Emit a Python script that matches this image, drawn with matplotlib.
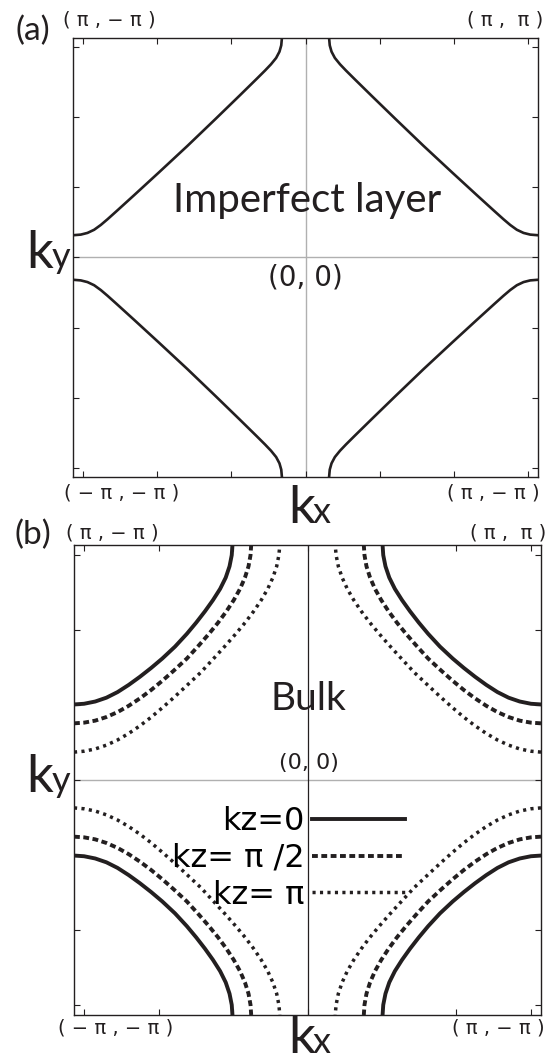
import matplotlib
matplotlib.use("Agg")
import matplotlib.pyplot as plt
from matplotlib.lines import Line2D

W, H = 554, 1053

# ---- data (momentum in units of pi); upper-left branch of each Fermi contour ----
# panel (a): imperfect layer
a_kx = [-1.045, -1.01, -0.98, -0.95, -0.92, -0.89, -0.85, -0.77, -0.66, -0.531,
        -0.404, -0.297, -0.22, -0.182, -0.155, -0.132, -0.117, -0.109, -0.106]
a_ky = [0.106, 0.109, 0.117, 0.132, 0.155, 0.182, 0.22, 0.297, 0.404, 0.531,
        0.66, 0.77, 0.85, 0.89, 0.92, 0.95, 0.98, 1.01, 1.045]
# panel (b): bulk, kz = 0
b0_kx = [-1.045, -1.0, -0.95, -0.90, -0.85, -0.80, -0.75, -0.70, -0.65, -0.593,
         -0.54, -0.498, -0.459, -0.423, -0.391, -0.366, -0.349, -0.339, -0.336]
b0_ky = [0.336, 0.339, 0.349, 0.366, 0.391, 0.423, 0.459, 0.498, 0.54, 0.593,
         0.65, 0.70, 0.75, 0.80, 0.85, 0.90, 0.95, 1.0, 1.045]
# kz = pi/2
b1_kx = [-1.045, -1.0, -0.95, -0.90, -0.85, -0.80, -0.75, -0.70, -0.65, -0.60, -0.54,
         -0.485, -0.441, -0.40, -0.363, -0.33, -0.302, -0.28, -0.264, -0.255, -0.252]
b1_ky = [0.252, 0.255, 0.264, 0.28, 0.302, 0.33, 0.363, 0.40, 0.441, 0.485, 0.54,
         0.60, 0.65, 0.70, 0.75, 0.80, 0.85, 0.90, 0.95, 1.0, 1.045]
# kz = pi
b2_kx = [-1.045, -1.0, -0.95, -0.90, -0.85, -0.80, -0.75, -0.70, -0.65, -0.60, -0.55, -0.478,
         -0.411, -0.365, -0.321, -0.279, -0.241, -0.207, -0.178, -0.155, -0.138, -0.128, -0.124]
b2_ky = [0.124, 0.128, 0.138, 0.155, 0.178, 0.207, 0.241, 0.279, 0.321, 0.365, 0.411, 0.478,
         0.55, 0.60, 0.65, 0.70, 0.75, 0.80, 0.85, 0.90, 0.95, 1.0, 1.045]

kz_labels = ["kz=0", "kz= π /2", "kz= π"]
tick_vals = [-1, -2/3, -1/3, 0, 1/3, 2/3, 1]
lim = 1.045

INK = "#231f20"
LAT = ["Lato", "DejaVu Sans"]
NAR = ["Liberation Sans Narrow", "DejaVu Sans"]
PIF = ["DejaVu Sans"]

fig = plt.figure(figsize=(W / 100, H / 100), dpi=100)


def ft(x, y, s, **kw):
    fig.text(x / W, 1 - y / H, s, **kw)


def setup(ax, vcolor, vlw):
    ax.set_xlim(-lim, lim)
    ax.set_ylim(-lim, lim)
    ax.set_xticks(tick_vals)
    ax.set_yticks(tick_vals)
    ax.tick_params(direction="in", length=4, width=0.8, top=True, right=True,
                   labelbottom=False, labelleft=False, color=INK)
    for sp in ax.spines.values():
        sp.set_linewidth(1.0)
        sp.set_color(INK)
    ax.axhline(0, color="#b0b0b0", lw=1.0, zorder=1)
    ax.axvline(0, color=vcolor, lw=vlw, zorder=1)


def four(ax, kx, ky, **kw):
    for sx in (1, -1):
        for sy in (1, -1):
            ax.plot([sx * v for v in kx], [sy * v for v in ky], color=INK,
                    solid_joinstyle="round", **kw)


DASH = (1.5, 0.9)
DOT = (0.9, 1.25)

# ---- panel (a) ----
axA = fig.add_axes([73 / W, 1 - 477 / H, 465 / W, 439 / H])
setup(axA, "#b0b0b0", 1.0)
four(axA, a_kx, a_ky, lw=1.9)

# ---- panel (b) ----
axB = fig.add_axes([74 / W, 1 - 1015 / H, 467 / W, 470 / H])
setup(axB, INK, 0.9)
four(axB, b0_kx, b0_ky, lw=2.8)
four(axB, b1_kx, b1_ky, lw=2.8, dashes=DASH)
four(axB, b2_kx, b2_ky, lw=2.5, dashes=DOT)

handles = [Line2D([], [], color=INK, lw=2.8),
           Line2D([], [], color=INK, lw=2.8, dashes=DASH),
           Line2D([], [], color=INK, lw=2.5, dashes=DOT)]
axB.legend(handles, kz_labels, loc="upper right", bbox_to_anchor=(405 / W, 1 - 806 / H),
           bbox_transform=fig.transFigure, frameon=False, markerfirst=False,
           handlelength=2.9, handletextpad=0.25, labelspacing=0.18, borderpad=0,
           borderaxespad=0, prop={"family": NAR, "size": 23})

# ---- texts ----
ft(33, 31, "(a)", family=LAT, size=24, ha="center", va="center", color=INK)
ft(33, 535, "(b)", family=LAT, size=24, ha="center", va="center", color=INK)

lab_kw = dict(family=PIF, size=14, ha="center", va="center", color=INK)
ft(109, 20, "( π , − π )", **lab_kw)
ft(505, 20, "( π ,  π )", **lab_kw)
ft(122, 493, "( − π , − π )", **lab_kw)
ft(493, 493, "( π , − π )", **lab_kw)

ft(112, 533, "( π , − π )", **lab_kw)
ft(508, 533, "( π ,  π )", **lab_kw)
ft(116, 1028, "( − π , − π )", **lab_kw)
ft(498, 1028, "( π , − π )", **lab_kw)

# axis labels k_x, k_y
ft(288, 523, "k", family=LAT, size=38, ha="left", va="baseline", color=INK)
ft(313, 523, "x", family=LAT, size=26, ha="left", va="baseline", color=INK)
ft(288, 1053, "k", family=LAT, size=38, ha="left", va="baseline", color=INK)
ft(313, 1053, "x", family=LAT, size=26, ha="left", va="baseline", color=INK)
ft(26, 268, "k", family=LAT, size=38, ha="left", va="baseline", color=INK)
ft(52, 268, "y", family=LAT, size=26, ha="left", va="baseline", color=INK)
ft(26, 792, "k", family=LAT, size=38, ha="left", va="baseline", color=INK)
ft(52, 792, "y", family=LAT, size=26, ha="left", va="baseline", color=INK)

ft(307, 212, "Imperfect layer", family=LAT, size=29, ha="center", va="baseline", color=INK)
ft(308, 710, "Bulk", family=LAT, size=28, ha="center", va="baseline", color=INK)

ft(305, 285, "(0, 0)", family=NAR, size=20, ha="center", va="baseline", color=INK)
ft(309, 769, "(0, 0)", family=NAR, size=16, ha="center", va="baseline", color=INK)

fig.savefig("out.png", dpi=100)
